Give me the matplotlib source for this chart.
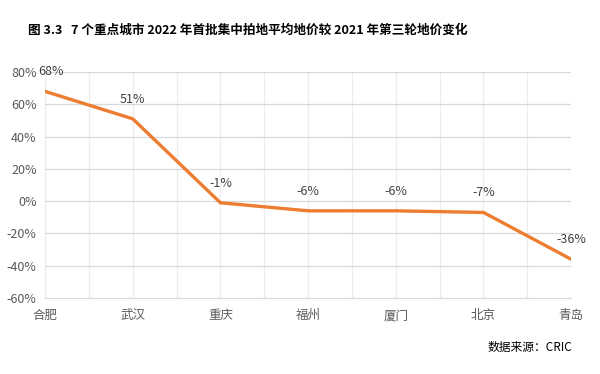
import matplotlib
matplotlib.use('Agg')
import matplotlib.pyplot as plt
import numpy as np

plt.rcParams['font.family'] = ['Noto Sans CJK SC', 'DejaVu Sans']

cities = ['合肥', '武汉', '重庆', '福州', '厦门', '北京', '青岛']
change = [68, 51, -1, -6, -6, -7, -36]
yticks = [-60, -40, -20, 0, 20, 40, 60, 80]

fig = plt.figure(figsize=(6, 3.74), dpi=100)
ax = fig.add_axes([0.075, 0.2032, 0.877, 0.6043])

x = np.arange(len(cities))
ax.plot(x, change, color='#ED7D31', linewidth=2.4, solid_joinstyle='miter', zorder=3)
for xi, v in zip(x, change):
    # 第一个标签与 80% 刻度挨得太近，稍微右移
    dx = 4 if xi == 0 else 0
    ax.annotate(f'{v}%', (xi, v), xytext=(dx, 14), textcoords='offset points',
                ha='center', va='center', fontsize=9, color='#404040', zorder=4)

ax.set_xlim(0, len(cities) - 1)
ax.set_ylim(-60, 80)
ax.set_yticks(yticks)
ax.set_yticklabels([f'{t}%' for t in yticks])
ax.set_xticks(x)
ax.set_xticklabels(cities)
ax.set_xticks(x[:-1] + 0.5, minor=True)

ax.grid(True, axis='y', color='#D9D9D9', linewidth=0.9)
ax.grid(True, axis='x', which='both', color='#EDEDED', linewidth=0.9)
ax.set_axisbelow(True)
for s in ['top', 'right', 'left']:
    ax.spines[s].set_visible(False)
ax.spines['bottom'].set_color('#D9D9D9')
ax.tick_params(axis='both', which='both', length=0, colors='#595959', labelsize=9)
ax.tick_params(axis='x', pad=8)
ax.tick_params(axis='y', pad=6)

fig.text(0.413, 0.918, '图 3.3   7 个重点城市 2022 年首批集中拍地平均地价较 2021 年第三轮地价变化',
         ha='center', va='center', fontsize=9.1, fontweight='bold', color='#000000')
fig.text(0.953, 0.072, '数据来源：CRIC', ha='right', va='center', fontsize=8.5, color='#000000')

fig.savefig('out.png', dpi=100, facecolor='white')
